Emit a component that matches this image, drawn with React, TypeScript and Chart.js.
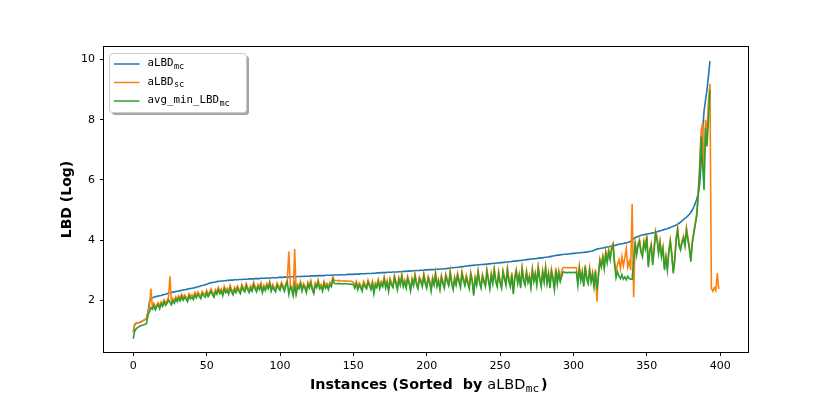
import React, { useEffect, useRef } from "react";
import { Chart, registerables } from "chart.js";

Chart.register(...registerables);

// ---------- data ----------
const aLBDmc: number[] = [
  0.94, 1.20, 1.23, 1.25, 1.26, 1.28, 1.30, 1.33, 1.36, 1.40,
  1.60, 1.95, 2.05, 2.08, 2.10, 2.12, 2.13, 2.14, 2.15, 2.16,
  2.18, 2.19, 2.20, 2.22, 2.24, 2.25, 2.26, 2.27, 2.28, 2.29,
  2.30, 2.31, 2.32, 2.33, 2.34, 2.35, 2.36, 2.37, 2.38, 2.39,
  2.40, 2.41, 2.42, 2.43, 2.45, 2.46, 2.48, 2.49, 2.50, 2.52,
  2.53, 2.55, 2.57, 2.58, 2.59, 2.60, 2.61, 2.62, 2.63, 2.63,
  2.64, 2.64, 2.65, 2.65, 2.66, 2.66, 2.67, 2.67, 2.67, 2.68,
  2.68, 2.68, 2.69, 2.69, 2.69, 2.70, 2.70, 2.70, 2.70, 2.71,
  2.71, 2.71, 2.71, 2.72, 2.72, 2.72, 2.72, 2.73, 2.73, 2.73,
  2.73, 2.74, 2.74, 2.74, 2.74, 2.75, 2.75, 2.75, 2.75, 2.76,
  2.76, 2.76, 2.76, 2.77, 2.77, 2.77, 2.77, 2.78, 2.78, 2.78,
  2.78, 2.78, 2.79, 2.79, 2.79, 2.79, 2.80, 2.80, 2.80, 2.80,
  2.80, 2.81, 2.81, 2.81, 2.81, 2.81, 2.82, 2.82, 2.82, 2.82,
  2.82, 2.83, 2.83, 2.83, 2.83, 2.83, 2.84, 2.84, 2.84, 2.84,
  2.84, 2.85, 2.85, 2.85, 2.85, 2.85, 2.86, 2.86, 2.86, 2.86,
  2.86, 2.87, 2.87, 2.87, 2.87, 2.88, 2.88, 2.88, 2.88, 2.89,
  2.89, 2.89, 2.89, 2.90, 2.90, 2.90, 2.91, 2.91, 2.91, 2.92,
  2.92, 2.92, 2.92, 2.93, 2.93, 2.93, 2.93, 2.94, 2.94, 2.94,
  2.94, 2.95, 2.95, 2.95, 2.96, 2.96, 2.96, 2.97, 2.97, 2.97,
  2.98, 2.98, 2.98, 2.99, 2.99, 2.99, 3.00, 3.00, 3.00, 3.01,
  3.01, 3.01, 3.02, 3.02, 3.02, 3.02, 3.03, 3.03, 3.03, 3.04,
  3.04, 3.04, 3.05, 3.05, 3.06, 3.06, 3.07, 3.08, 3.08, 3.09,
  3.09, 3.10, 3.10, 3.11, 3.12, 3.12, 3.13, 3.14, 3.14, 3.15,
  3.15, 3.16, 3.16, 3.17, 3.17, 3.18, 3.18, 3.19, 3.19, 3.19,
  3.20, 3.20, 3.21, 3.21, 3.22, 3.22, 3.23, 3.23, 3.24, 3.24,
  3.25, 3.25, 3.26, 3.26, 3.27, 3.27, 3.28, 3.28, 3.29, 3.30,
  3.30, 3.31, 3.31, 3.32, 3.32, 3.33, 3.34, 3.34, 3.35, 3.36,
  3.36, 3.37, 3.37, 3.38, 3.38, 3.39, 3.40, 3.40, 3.41, 3.41,
  3.42, 3.43, 3.43, 3.44, 3.45, 3.46, 3.47, 3.48, 3.49, 3.50,
  3.50, 3.51, 3.52, 3.52, 3.53, 3.53, 3.54, 3.54, 3.55, 3.55,
  3.56, 3.56, 3.57, 3.57, 3.58, 3.58, 3.59, 3.59, 3.60, 3.60,
  3.61, 3.62, 3.63, 3.64, 3.66, 3.68, 3.70, 3.71, 3.72, 3.73,
  3.74, 3.75, 3.76, 3.77, 3.78, 3.79, 3.80, 3.81, 3.82, 3.84,
  3.85, 3.86, 3.87, 3.88, 3.89, 3.90, 3.91, 3.92, 3.94, 3.96,
  4.00, 4.05, 4.08, 4.10, 4.12, 4.14, 4.16, 4.17, 4.18, 4.19,
  4.20, 4.21, 4.22, 4.23, 4.24, 4.25, 4.27, 4.28, 4.29, 4.31,
  4.32, 4.34, 4.35, 4.37, 4.38, 4.40, 4.42, 4.44, 4.46, 4.48,
  4.50, 4.53, 4.56, 4.60, 4.64, 4.68, 4.72, 4.76, 4.81, 4.86,
  4.92, 5.00, 5.10, 5.22, 5.36, 5.55, 5.85, 6.60, 7.60, 8.30,
  8.65, 9.00, 9.45, 9.95,
];

const aLBDsc: number[] = [
  0.94, 1.22, 1.24, 1.25, 1.26, 1.28, 1.30, 1.33, 1.36, 1.40,
  1.60, 1.80, 2.39, 1.78, 1.90, 1.75, 1.86, 1.92, 1.80, 1.95,
  1.88, 2.02, 1.90, 1.98, 2.10, 2.80, 1.93, 2.06, 1.98, 2.12,
  2.03, 2.15, 2.06, 2.20, 2.08, 2.18, 2.11, 2.03, 2.22, 2.13,
  2.18, 2.10, 2.26, 2.16, 2.28, 2.20, 2.13, 2.30, 2.23, 2.18,
  2.33, 2.20, 2.28, 2.38, 2.26, 2.18, 2.36, 2.28, 2.43, 2.30,
  2.38, 2.23, 2.46, 2.33, 2.40, 2.28, 2.50, 2.36, 2.26, 2.43,
  2.33, 2.48, 2.38, 2.30, 2.53, 2.41, 2.36, 2.56, 2.43, 2.33,
  2.48, 2.38, 2.60, 2.46, 2.36, 2.53, 2.43, 2.58, 2.33, 2.50,
  2.40, 2.56, 2.46, 2.63, 2.38, 2.53, 2.43, 2.36, 2.58, 2.48,
  2.41, 2.60, 2.50, 2.38, 2.56, 2.68, 3.62, 2.53, 2.43, 2.23,
  3.70, 2.28, 2.53, 2.46, 2.63, 2.38, 2.56, 2.48, 2.33, 2.60,
  2.48, 2.66, 2.43, 2.30, 2.58, 2.50, 2.68, 2.46, 2.53, 2.38,
  2.63, 2.48, 2.56, 2.43, 2.60, 2.53, 2.78, 2.66, 2.65, 2.65,
  2.66, 2.65, 2.64, 2.64, 2.65, 2.64, 2.64, 2.63, 2.63, 2.63,
  2.60, 2.48, 2.63, 2.43, 2.58, 2.50, 2.38, 2.63, 2.53, 2.46,
  2.68, 2.56, 2.43, 2.63, 2.30, 2.58, 2.50, 2.70, 2.46, 2.63,
  2.53, 2.78, 2.48, 2.66, 2.38, 2.73, 2.58, 2.50, 2.83, 2.63,
  2.43, 2.76, 2.58, 2.86, 2.53, 2.68, 2.48, 2.80, 2.63, 2.38,
  2.73, 2.56, 2.88, 2.60, 2.46, 2.78, 2.68, 2.53, 2.90, 2.63,
  2.48, 2.80, 2.66, 2.38, 2.76, 2.58, 2.93, 2.53, 2.70, 2.43,
  2.83, 2.63, 2.48, 2.88, 2.70, 2.56, 2.98, 2.63, 2.43, 2.78,
  2.58, 2.90, 2.68, 2.50, 2.96, 2.73, 2.56, 2.83, 2.63, 2.46,
  2.93, 2.70, 2.23, 2.78, 2.58, 3.00, 2.66, 2.48, 2.86, 2.68,
  2.53, 3.03, 2.73, 2.46, 2.90, 2.63, 3.06, 2.70, 2.53, 2.96,
  2.66, 2.48, 3.00, 2.78, 2.58, 3.08, 2.70, 2.53, 2.93, 2.28,
  2.80, 3.03, 2.63, 2.88, 2.48, 3.10, 2.73, 2.58, 2.98, 2.66,
  2.83, 2.50, 3.06, 2.70, 2.93, 2.58, 3.13, 2.78, 2.53, 3.00,
  2.68, 3.13, 2.63, 2.93, 2.48, 3.03, 2.78, 2.43, 3.08, 2.63,
  2.98, 2.70, 3.00, 3.09, 3.09, 3.08, 3.09, 3.08, 3.08, 3.09,
  3.08, 3.09, 3.08, 2.58, 3.13, 2.73, 2.98, 2.53, 3.18, 2.78,
  2.63, 3.08, 2.68, 2.93, 2.53, 3.03, 1.95, 2.88, 3.38, 3.18,
  3.48, 3.13, 3.63, 3.33, 3.68, 3.43, 3.78, 3.90, 3.28, 2.95,
  3.20, 3.35, 3.05, 3.45, 3.15, 3.40, 3.72, 3.10, 3.30, 3.00,
  5.20, 2.10, 3.95, 3.58, 3.88, 4.03, 3.68, 3.52, 3.98, 3.78,
  4.18, 3.18, 3.68, 3.88, 3.25, 3.78, 4.30, 4.08, 3.64, 3.98,
  3.52, 3.78, 3.08, 3.48, 3.08, 3.68, 4.02, 3.58, 2.97, 3.38,
  4.08, 4.41, 3.88, 3.75, 3.98, 4.14, 3.88, 4.41, 4.08, 3.78,
  3.36, 3.98, 4.28, 4.58, 4.90, 5.60, 6.50, 7.60, 7.90, 6.20,
  8.00, 7.50, 8.60, 9.20, 2.40, 2.30, 2.42, 2.32, 2.90, 2.38,
];

const avgMinLBDmc: number[] = [
  0.72, 0.98, 1.05, 1.10, 1.12, 1.15, 1.17, 1.18, 1.20, 1.22,
  1.50, 1.62, 1.75, 1.70, 1.82, 1.68, 1.78, 1.85, 1.72, 1.88,
  1.80, 1.95, 1.83, 1.90, 2.02, 1.92, 1.85, 1.98, 1.90, 2.05,
  1.95, 2.08, 1.98, 2.12, 2.00, 2.10, 2.03, 1.95, 2.15, 2.05,
  2.10, 2.02, 2.18, 2.08, 2.20, 2.12, 2.05, 2.22, 2.15, 2.10,
  2.25, 2.12, 2.20, 2.30, 2.18, 2.10, 2.28, 2.20, 2.35, 2.22,
  2.30, 2.15, 2.38, 2.25, 2.32, 2.20, 2.42, 2.28, 2.18, 2.35,
  2.25, 2.40, 2.30, 2.22, 2.45, 2.33, 2.28, 2.48, 2.35, 2.25,
  2.40, 2.30, 2.52, 2.38, 2.28, 2.45, 2.35, 2.50, 2.25, 2.42,
  2.32, 2.48, 2.38, 2.55, 2.30, 2.45, 2.35, 2.28, 2.50, 2.40,
  2.33, 2.52, 2.42, 2.30, 2.48, 2.60, 2.20, 2.45, 2.35, 2.15,
  2.50, 2.20, 2.45, 2.38, 2.55, 2.30, 2.48, 2.40, 2.25, 2.52,
  2.40, 2.58, 2.35, 2.22, 2.50, 2.42, 2.60, 2.38, 2.45, 2.30,
  2.55, 2.40, 2.48, 2.35, 2.52, 2.45, 2.70, 2.56, 2.55, 2.55,
  2.56, 2.55, 2.55, 2.54, 2.55, 2.55, 2.54, 2.54, 2.53, 2.54,
  2.52, 2.40, 2.55, 2.35, 2.50, 2.42, 2.30, 2.55, 2.45, 2.38,
  2.60, 2.48, 2.35, 2.55, 2.22, 2.50, 2.42, 2.62, 2.38, 2.55,
  2.45, 2.70, 2.40, 2.58, 2.30, 2.65, 2.50, 2.42, 2.75, 2.55,
  2.35, 2.68, 2.50, 2.78, 2.45, 2.60, 2.40, 2.72, 2.55, 2.30,
  2.65, 2.48, 2.80, 2.52, 2.38, 2.70, 2.60, 2.45, 2.82, 2.55,
  2.40, 2.72, 2.58, 2.30, 2.68, 2.50, 2.85, 2.45, 2.62, 2.35,
  2.75, 2.55, 2.40, 2.80, 2.62, 2.48, 2.90, 2.55, 2.35, 2.70,
  2.50, 2.82, 2.60, 2.42, 2.88, 2.65, 2.48, 2.75, 2.55, 2.38,
  2.85, 2.62, 2.15, 2.70, 2.50, 2.92, 2.58, 2.40, 2.78, 2.60,
  2.45, 2.95, 2.65, 2.38, 2.82, 2.55, 2.98, 2.62, 2.45, 2.88,
  2.58, 2.40, 2.92, 2.70, 2.50, 3.00, 2.62, 2.45, 2.85, 2.20,
  2.72, 2.95, 2.55, 2.80, 2.40, 3.02, 2.65, 2.50, 2.90, 2.58,
  2.75, 2.42, 2.98, 2.62, 2.85, 2.50, 3.05, 2.70, 2.45, 2.92,
  2.60, 3.05, 2.55, 2.85, 2.40, 2.95, 2.70, 2.35, 3.00, 2.55,
  2.90, 2.62, 2.80, 2.95, 2.93, 2.92, 2.92, 2.93, 2.92, 2.92,
  2.93, 2.92, 2.93, 2.50, 3.05, 2.65, 2.90, 2.45, 3.10, 2.70,
  2.55, 3.00, 2.60, 2.85, 2.45, 2.95, 2.35, 2.80, 3.30, 3.10,
  3.40, 3.05, 3.55, 3.25, 3.60, 3.35, 3.70, 3.83, 3.20, 2.75,
  2.95, 2.80, 2.72, 2.85, 2.70, 2.78, 2.68, 2.80, 2.72, 2.70,
  2.70, 3.30, 3.89, 3.50, 3.80, 3.95, 3.60, 3.44, 3.90, 3.70,
  4.10, 3.10, 3.60, 3.80, 3.17, 3.70, 4.22, 4.00, 3.56, 3.90,
  3.44, 3.70, 3.00, 3.40, 3.00, 3.60, 3.94, 3.50, 2.89, 3.30,
  4.00, 4.33, 3.80, 3.67, 3.90, 4.06, 3.80, 4.33, 4.00, 3.70,
  3.28, 3.90, 4.20, 4.50, 4.80, 5.44, 6.20, 7.44, 6.50, 5.67,
  7.72, 7.11, 8.00, 9.00,
];

const xTickValues = [0, 50, 100, 150, 200, 250, 300, 350, 400];
const yTickValues = [2, 4, 6, 8, 10];

const seriesNames: [string, string][] = [
  ["aLBD", "mc"],
  ["aLBD", "sc"],
  ["avg_min_LBD", "mc"],
];
const seriesColors = ["#1f77b4", "#ff7f0e", "#2ca02c"];

const yTitle = "LBD (Log)";
const xTitleBold = "Instances (Sorted  by ";
const xTitleMain = "aLBD";
const xTitleSub = "mc";
const xTitleEnd = ")";

// ---------- drawing helpers ----------
const SANS = "'DejaVu Sans', 'Liberation Sans', sans-serif";
const MONO = "'DejaVu Sans Mono', 'Liberation Mono', monospace";

const overlayPlugin = {
  id: "overlayPlugin",
  afterDraw(chart: any) {
    const ctx: CanvasRenderingContext2D = chart.ctx;
    const a = chart.chartArea;
    ctx.save();

    // frame
    ctx.strokeStyle = "#000";
    ctx.lineWidth = 1;
    ctx.strokeRect(
      Math.round(a.left) - 0.5,
      Math.round(a.top) - 0.5,
      Math.round(a.right) - Math.round(a.left) + 1,
      Math.round(a.bottom) - Math.round(a.top) + 1
    );

    // y title
    ctx.save();
    ctx.translate(67.5, (a.top + a.bottom) / 2);
    ctx.rotate(-Math.PI / 2);
    ctx.font = `bold 14px ${SANS}`;
    ctx.fillStyle = "#000";
    ctx.textAlign = "center";
    ctx.textBaseline = "middle";
    ctx.fillText(yTitle, 0, 0);
    ctx.restore();

    // x title (rich text)
    const boldFont = `bold 14.3px ${SANS}`;
    const mainFont = `14.5px ${SANS}`;
    const subFont = `11px ${MONO}`;
    ctx.textBaseline = "alphabetic";
    ctx.textAlign = "left";
    ctx.font = boldFont;
    const w1 = ctx.measureText(xTitleBold).width;
    ctx.font = mainFont;
    const w2 = ctx.measureText(xTitleMain).width;
    ctx.font = subFont;
    const w3 = ctx.measureText(xTitleSub).width;
    let x = 310;
    const base = 389;
    ctx.fillStyle = "#000";
    ctx.font = boldFont;
    ctx.fillText(xTitleBold, x, base);
    x += w1;
    ctx.font = mainFont;
    ctx.fillText(xTitleMain, x, base);
    x += w2 + 0.5;
    ctx.font = subFont;
    ctx.fillText(xTitleSub, x, base + 3);
    x += w3 + 2;
    ctx.font = boldFont;
    ctx.fillText(xTitleEnd, x, base);

    // legend
    const lx = 109.5, ly = 53.5, lw = 137, lh = 59, r = 3;
    const rr = (px: number, py: number) => {
      ctx.beginPath();
      ctx.moveTo(px + r, py);
      ctx.lineTo(px + lw - r, py);
      ctx.quadraticCurveTo(px + lw, py, px + lw, py + r);
      ctx.lineTo(px + lw, py + lh - r);
      ctx.quadraticCurveTo(px + lw, py + lh, px + lw - r, py + lh);
      ctx.lineTo(px + r, py + lh);
      ctx.quadraticCurveTo(px, py + lh, px, py + lh - r);
      ctx.lineTo(px, py + r);
      ctx.quadraticCurveTo(px, py, px + r, py);
      ctx.closePath();
    };
    rr(lx + 2.5, ly + 2.5);
    ctx.fillStyle = "rgba(77,77,77,0.5)";
    ctx.fill();
    rr(lx, ly);
    ctx.fillStyle = "#ffffff";
    ctx.fill();
    ctx.strokeStyle = "#cccccc";
    ctx.lineWidth = 1;
    ctx.stroke();

    const rows = [64, 82.5, 101];
    seriesNames.forEach((nm, i) => {
      const y = rows[i];
      ctx.strokeStyle = seriesColors[i];
      ctx.lineWidth = 1.5;
      ctx.beginPath();
      ctx.moveTo(114, y);
      ctx.lineTo(139.5, y);
      ctx.stroke();
      ctx.fillStyle = "#000";
      ctx.textBaseline = "middle";
      ctx.font = `10.8px ${MONO}`;
      ctx.fillText(nm[0], 147.5, y - 0.5);
      const wm = ctx.measureText(nm[0]).width;
      ctx.font = `8.5px ${MONO}`;
      ctx.fillText(nm[1], 147.5 + wm + 0.5, y + 2.5);
    });

    ctx.restore();
  },
};

export default function App() {
  const canvasRef = useRef<HTMLCanvasElement | null>(null);

  useEffect(() => {
    if (!canvasRef.current) return;
    const toPts = (arr: number[]) => arr.map((v, i) => ({ x: i, y: v }));
    const chart = new Chart(canvasRef.current, {
      type: "line",
      data: {
        datasets: [
          {
            label: "aLBD_mc",
            data: toPts(aLBDmc),
            borderColor: seriesColors[0],
            borderWidth: 1.6,
            pointRadius: 0,
            tension: 0,
            order: 2,
          },
          {
            label: "aLBD_sc",
            data: toPts(aLBDsc),
            borderColor: seriesColors[1],
            borderWidth: 1.6,
            pointRadius: 0,
            tension: 0,
            order: 1,
          },
          {
            label: "avg_min_LBD_mc",
            data: toPts(avgMinLBDmc),
            borderColor: seriesColors[2],
            borderWidth: 1.6,
            pointRadius: 0,
            tension: 0,
            order: 0,
          },
        ],
      },
      options: {
        animation: false,
        responsive: false,
        devicePixelRatio: 1,
        layout: { padding: { left: 0, top: 47, right: 83, bottom: 0 } },
        plugins: {
          legend: { display: false },
          tooltip: { enabled: false },
        },
        scales: {
          x: {
            type: "linear",
            min: -19.95,
            max: 418.95,
            afterBuildTicks: (s: any) => {
              s.ticks = xTickValues.map((v) => ({ value: v }));
            },
            afterFit: (s: any) => {
              s.height = 44;
            },
            grid: {
              display: true,
              drawOnChartArea: false,
              drawTicks: true,
              tickLength: 4,
              tickColor: "#000",
              tickWidth: 1,
            },
            border: { display: false },
            ticks: {
              font: { family: SANS, size: 11 },
              color: "#000",
              padding: 4,
              maxRotation: 0,
              autoSkip: false,
            },
          },
          y: {
            type: "linear",
            min: 0.28,
            max: 10.42,
            afterBuildTicks: (s: any) => {
              s.ticks = yTickValues.map((v) => ({ value: v }));
            },
            afterFit: (s: any) => {
              s.width = 104;
            },
            grid: {
              display: true,
              drawOnChartArea: false,
              drawTicks: true,
              tickLength: 4,
              tickColor: "#000",
              tickWidth: 1,
            },
            border: { display: false },
            ticks: {
              font: { family: SANS, size: 11 },
              color: "#000",
              padding: 5,
              autoSkip: false,
            },
          },
        },
      },
      plugins: [overlayPlugin],
    } as any);
    return () => chart.destroy();
  }, []);

  return (
    <div style={{ position: "absolute", left: 0, top: 0, width: 831, height: 396, background: "#fff" }}>
      <canvas ref={canvasRef} width={831} height={396} style={{ width: 831, height: 396, display: "block" }} />
    </div>
  );
}
